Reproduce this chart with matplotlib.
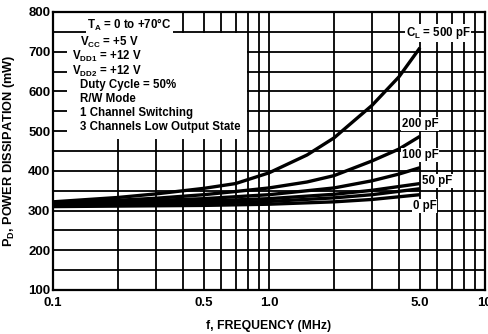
import matplotlib
matplotlib.use("Agg")
import matplotlib.pyplot as plt
from matplotlib.patches import Rectangle

plt.rcParams['font.family'] = ['Liberation Sans', 'DejaVu Sans']
plt.rcParams['font.weight'] = 'bold'
plt.rcParams['mathtext.fontset'] = 'custom'
plt.rcParams['mathtext.rm'] = 'Liberation Sans:bold'
plt.rcParams['mathtext.it'] = 'Liberation Sans:bold'
plt.rcParams['mathtext.bf'] = 'Liberation Sans:bold'

# Data (frequency in MHz, power in mW)
freq_500 = [0.1, 0.2, 0.3, 0.5, 0.7, 1.0, 1.5, 2.0, 3.0, 4.0, 5.0]
pd_500 = [322, 333, 342, 356, 368, 395, 440, 483, 565, 637, 710]
freq_200 = [0.1, 0.2, 0.3, 0.5, 0.7, 1.0, 1.5, 2.0, 3.0, 4.0, 5.0]
pd_200 = [320, 326, 331, 340, 348, 357, 372, 388, 425, 455, 487]
freq_100 = [0.1, 0.2, 0.5, 1.0, 2.0, 3.0, 4.0, 5.0]
pd_100 = [318, 322, 330, 340, 357, 375, 392, 408]
freq_50 = [0.1, 0.5, 1.0, 2.0, 3.0, 5.0]
pd_50 = [316, 324, 330, 341, 351, 368]
freq_20 = [0.1, 0.5, 1.0, 2.0, 3.0, 5.0]
pd_20 = [313, 319, 323, 332, 340, 355]
freq_0 = [0.1, 0.5, 1.0, 2.0, 3.0, 5.0]
pd_0 = [310, 313, 316, 322, 328, 340]

y_ticks = [100, 200, 300, 400, 500, 600, 700, 800]
x_ticks = [0.1, 0.5, 1.0, 5.0, 10]
x_tick_labels = ["0.1", "0.5", "1.0", "5.0", "10"]

fig = plt.figure(figsize=(4.88, 3.34), dpi=100)
ax = fig.add_axes([53/488, 1 - 290/334, 432/488, 278/334])
ax.set_xscale('log')
ax.set_xlim(0.1, 10)
ax.set_ylim(100, 800)

# grid
for v in range(100, 801, 50):
    ax.axhline(v, color='black', lw=1.3, zorder=1)
xs = [a * m for m in (0.1, 1.0) for a in range(1, 10)] + [10]
for v in xs:
    ax.axvline(v, color='black', lw=1.3, zorder=1)

# white area behind the condition text
ax.add_patch(Rectangle((0.1, 752), 0.26, 48, facecolor='white', edgecolor='none', zorder=2))
ax.add_patch(Rectangle((0.116, 480), 0.79 - 0.116, 268, facecolor='white', edgecolor='none', zorder=2))

for f, p in [(freq_500, pd_500), (freq_200, pd_200), (freq_100, pd_100),
             (freq_50, pd_50), (freq_20, pd_20), (freq_0, pd_0)]:
    ax.plot(f, p, color='black', lw=2.4, solid_capstyle='butt', zorder=3)

for s in ax.spines.values():
    s.set_linewidth(1.6)
    s.set_zorder(5)

ax.set_yticks(y_ticks)
ax.set_yticklabels([str(v) for v in y_ticks])
ax.set_xticks(x_ticks)
ax.set_xticklabels(x_tick_labels)
ax.minorticks_off()
ax.tick_params(length=0, labelsize=9.5, pad=2)
ax.tick_params(axis='x', pad=5)

ax.set_ylabel("P$_\\mathrm{D}$, POWER DISSIPATION (mW)", fontsize=9.2, fontweight='bold', labelpad=8)
ax.set_xlabel("f, FREQUENCY (MHz)", fontsize=8.8, fontweight='bold', labelpad=8)

tk = dict(transform=ax.transAxes, fontsize=8.3, fontweight='bold', va='center', ha='left', zorder=6)
def fx(px):
    return (px - 53) / 432
def fy(py):
    return (290 - py) / 278

ax.text(fx(87), fy(25), "T$_\\mathrm{A}$ = 0 to +70\u00b0C",
        bbox=dict(facecolor='white', edgecolor='none', pad=1), **tk)
ax.text(fx(80), fy(42), "V$_\\mathrm{CC}$ = +5 V", **tk)
ax.text(fx(72), fy(56), "V$_\\mathrm{DD1}$ = +12 V", **tk)
ax.text(fx(72), fy(71), "V$_\\mathrm{DD2}$ = +12 V", **tk)
ax.text(fx(80), fy(85), "Duty Cycle = 50%", **tk)
ax.text(fx(80), fy(99), "R/W Mode", **tk)
ax.text(fx(80), fy(113), "1 Channel Switching", **tk)
ax.text(fx(80), fy(127), "3 Channels Low Output State", **tk)

lb = dict(transform=ax.transAxes, fontsize=8.3, fontweight='bold', va='center', ha='left', zorder=6,
          bbox=dict(facecolor='white', edgecolor='none', pad=0.5))
ax.text(fx(406), fy(33), "C$_\\mathrm{L}$ = 500 pF", **lb)
ax.text(fx(402), fy(124), "200 pF", **lb)
ax.text(fx(402), fy(155), "100 pF", **lb)
ax.text(fx(422), fy(181), "50 pF", **lb)
ax.text(fx(413), fy(206), "0 pF", **lb)

fig.savefig("out.png", dpi=100)
